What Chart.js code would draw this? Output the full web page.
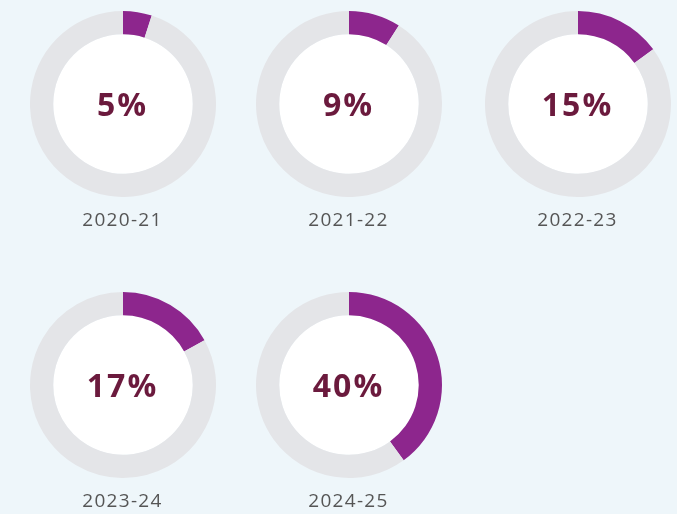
<!DOCTYPE html>
<html>
<head>
<meta charset="utf-8">
<script src="https://cdn.jsdelivr.net/npm/chart.js@4/dist/chart.umd.min.js"></script>
<style>
  html, body { margin: 0; padding: 0; }
  body { width: 677px; height: 514px; background: #eef6fa; position: relative; overflow: hidden; font-family: "Open Sans", Lato, sans-serif; }
  .cell { position: absolute; width: 186px; height: 186px; }
  .cell canvas { position: absolute; left: 0; top: 0; }
  .pct { position: absolute; left: 0; top: 0; width: 186px; height: 186px; line-height: 186px; text-align: center;
         font-size: 32px; font-weight: 700; color: #6b1a3d; letter-spacing: 2px; }
  .year { position: absolute; width: 186px; text-align: center; font-size: 19px; color: #555; letter-spacing: 1.3px; }
</style>
</head>
<body>
<script>
// --- Data ---
const years = ["2020-21", "2021-22", "2022-23", "2023-24", "2024-25"];
const shares = [5, 9, 15, 17, 40];

// --- Layout (centre of each ring) ---
const centres = [[122.5, 104], [348.5, 104], [577.5, 104], [122.5, 385], [348.5, 385]];

// fill the hole of the ring white
const whiteHole = {
  id: "whiteHole",
  beforeDatasetsDraw(chart) {
    const arc = chart.getDatasetMeta(0).data[0];
    if (!arc) return;
    const c = chart.ctx;
    c.save();
    c.beginPath();
    c.arc(arc.x, arc.y, arc.innerRadius, 0, Math.PI * 2);
    c.fillStyle = "#ffffff";
    c.fill();
    c.restore();
  }
};

years.forEach((year, i) => {
  const [cx, cy] = centres[i];
  const cell = document.createElement("div");
  cell.className = "cell";
  cell.style.left = (cx - 93) + "px";
  cell.style.top = (cy - 93) + "px";
  const canvas = document.createElement("canvas");
  canvas.width = 186;
  canvas.height = 186;
  cell.appendChild(canvas);
  const pct = document.createElement("div");
  pct.className = "pct";
  pct.textContent = shares[i] + "%";
  cell.appendChild(pct);
  document.body.appendChild(cell);

  const lab = document.createElement("div");
  lab.className = "year";
  lab.style.left = (cx - 93) + "px";
  lab.style.top = (cy + 102) + "px";
  lab.textContent = year;
  document.body.appendChild(lab);

  new Chart(canvas.getContext("2d"), {
    type: "doughnut",
    data: {
      labels: [year, "rest"],
      datasets: [{
        data: [shares[i], 100 - shares[i]],
        backgroundColor: ["#8d268d", "#e4e5e8"],
        borderWidth: 0
      }]
    },
    options: {
      responsive: false,
      animation: false,
      cutout: "75%",
      plugins: { legend: { display: false }, tooltip: { enabled: false } }
    },
    plugins: [whiteHole]
  });
});
</script>
</body>
</html>
